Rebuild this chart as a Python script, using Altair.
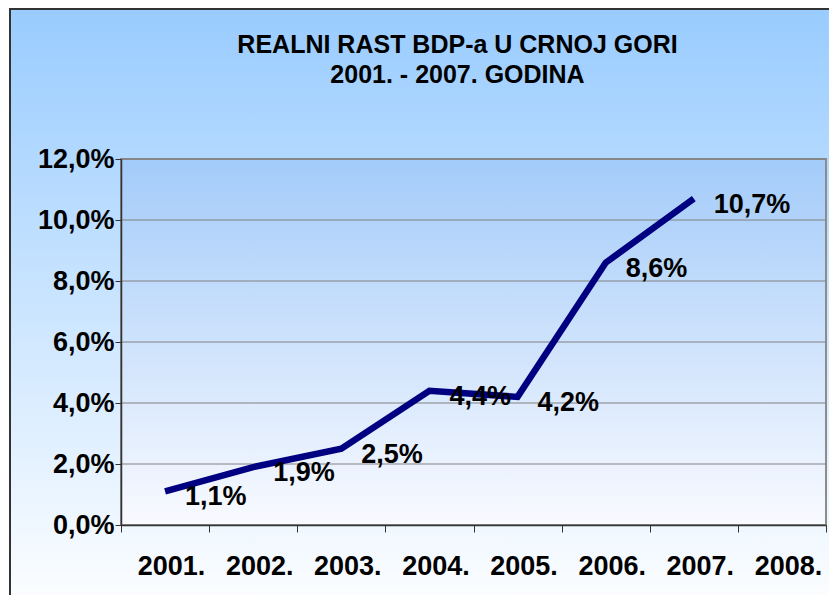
import altair as alt
import pandas as pd

years = ["2001.", "2002.", "2003.", "2004.", "2005.", "2006.", "2007.", "2008."]
data_years = ["2001.", "2002.", "2003.", "2004.", "2005.", "2006.", "2007."]
growth = [1.1, 1.9, 2.5, 4.4, 4.2, 8.6, 10.7]
y_ticks = [0, 2, 4, 6, 8, 10, 12]
title_lines = ["REALNI RAST BDP-a U CRNOJ GORI", "2001. - 2007. GODINA"]

FONT = "Liberation Sans"
W, H = 705, 366

df = pd.DataFrame({"godina": data_years, "rast": growth})
df["label"] = [f"{v:.1f}".replace(".", ",") + "%" for v in growth]
grid_df = pd.DataFrame({"g": y_ticks[1:]})
one = pd.DataFrame({"a": [0]})

xscale = alt.Scale(type="band", domain=years, paddingInner=0, paddingOuter=0)
yscale = alt.Scale(domain=[0, 12], nice=False, zero=True)

y_axis = alt.Axis(title=None, values=y_ticks, tickSize=6, tickColor="#333333",
                  domainColor="#333333", domainWidth=1.5, labelFont=FONT,
                  labelFontSize=27, labelFontWeight="bold", labelColor="black",
                  labelPadding=1,
                  labelExpr="replace(format(datum.value, '.1f'), '.', ',') + '%'",
                  zindex=1, grid=False)

outer_bg = alt.Chart(one).mark_rect(
    fill=alt.Gradient(gradient="linear", x1=0, x2=0, y1=0, y2=1,
                      stops=[alt.GradientStop(color="#99CCFF", offset=0),
                             alt.GradientStop(color="#FFFFFF", offset=1)]),
    stroke="#333333", strokeWidth=2,
).encode(x=alt.value(-111), x2=alt.value(730), y=alt.value(-150), y2=alt.value(460))

plot_bg = alt.Chart(one).mark_rect(
    fill=alt.Gradient(gradient="linear", x1=0, x2=0, y1=0, y2=1,
                      stops=[alt.GradientStop(color="#A3CBF9", offset=0),
                             alt.GradientStop(color="#F9FAFF", offset=1)]),
    stroke="#8C8C8C", strokeWidth=2,
).encode(x=alt.value(0), x2=alt.value(W), y=alt.value(0), y2=alt.value(H))

grid = alt.Chart(grid_df).mark_rule(color="#808080", strokeWidth=1).encode(
    y=alt.Y("g:Q", scale=yscale, axis=y_axis)
)

line = alt.Chart(df).mark_line(color="#000080", strokeWidth=6.5, strokeJoin="miter").encode(
    x=alt.X("godina:N", scale=xscale, sort=years,
            axis=alt.Axis(title=None, tickBand="extent", tickSize=7, tickColor="#333333",
                          domainColor="#333333", domainWidth=1.5, labelFont=FONT,
                          labelFontSize=27, labelFontWeight="bold", labelColor="black",
                          labelPadding=21, labelOffset=6, labelAngle=0, zindex=1, grid=False)),
    y=alt.Y("rast:Q", scale=yscale, axis=y_axis),
)

labels = alt.Chart(df).mark_text(
    align="left", baseline="middle", dx=20, dy=6, font=FONT, fontSize=27,
    fontWeight="bold", color="black",
).encode(
    x=alt.X("godina:N", scale=xscale, sort=years),
    y=alt.Y("rast:Q", scale=yscale, axis=y_axis),
    text="label:N",
)

chart = alt.layer(outer_bg, plot_bg, grid, line, labels).properties(
    width=W, height=H,
    autosize=alt.AutoSizeParams(type="none"),
    padding={"left": 113, "top": 151, "right": 3, "bottom": 70},
    title=alt.TitleParams(text=title_lines, font=FONT, fontSize=25, fontWeight="bold",
                          color="black", anchor="middle", frame="group", dx=-16,
                          offset=-80, lineHeight=30),
).configure_view(stroke=None)

chart.save("out.html", embed_options={"renderer": "svg", "actions": False})
